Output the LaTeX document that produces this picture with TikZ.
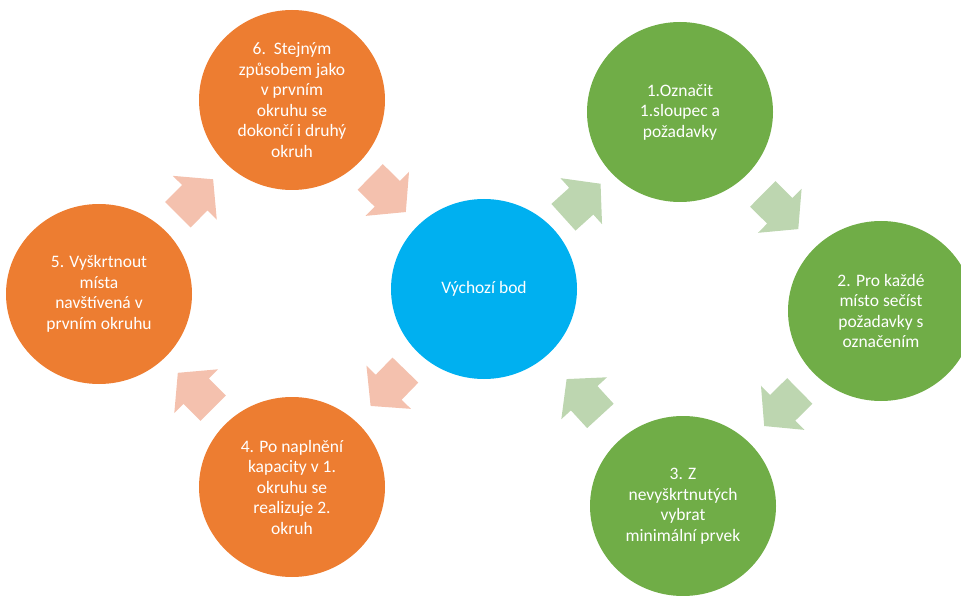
\documentclass[tikz,border=0pt]{standalone}
\usepackage{fontspec}
\setmainfont{Carlito}
\usetikzlibrary{shapes.geometric}

\definecolor{stepgreen}{HTML}{70AD47}
\definecolor{steporange}{HTML}{ED7D31}
\definecolor{startblue}{HTML}{00B0F0}
\definecolor{arrowgreen}{HTML}{BDD6B0}
\definecolor{arroworange}{HTML}{F4C1AE}

\tikzset{
  stepnode/.style={ellipse, minimum width=186pt, minimum height=180pt,
    inner sep=0pt, align=center, text=white,
    font=\fontsize{17.5pt}{20.5pt}\selectfont},
  greenstep/.style={stepnode, fill=stepgreen},
  orangestep/.style={stepnode, fill=steporange},
  startnode/.style={stepnode, fill=startblue},
  % a block arrow pointing along the local x axis, centred on the origin
  blockarrow/.pic={
    \fill[pic actions] (-25,-18) -- (-1,-18) -- (-1,-31) -- (25,0)
      -- (-1,31) -- (-1,18) -- (-25,18) -- cycle;
  },
  flowarrow/.style={sloped, allow upside down, pos=0.5},
  greenarrow/.style={flowarrow, fill=arrowgreen},
  orangearrow/.style={flowarrow, fill=arroworange}
}

\begin{document}
\begin{tikzpicture}[x=1pt, y=-1pt]
  \clip (0,0) rectangle (961,596);

  % start node and the six steps
  \node[startnode]  (start) at (484,289) {Výchozí bod};
  \node[greenstep]  (s1) at (680,112) {1.Označit\\1.sloupec a\\požadavky};
  \node[greenstep]  (s2) at (881,311) {2. Pro každé\\místo sečíst\\požadavky s\\označením};
  \node[greenstep]  (s3) at (683,506) {3. Z\\nevyškrtnutých\\vybrat\\minimální prvek};
  \node[orangestep] (s4) at (292,487) {4. Po naplnění\\kapacity v 1.\\okruhu se\\realizuje 2.\\okruh};
  \node[orangestep] (s5) at (99,294)  {5. Vyškrtnout\\místa\\navštívená v\\prvním okruhu};
  \node[orangestep] (s6) at (292,100) {6.\ \ Stejným\\způsobem jako\\v prvním\\okruhu se\\dokončí i druhý\\okruh};

  % block arrows halfway between consecutive nodes
  \path (start) -- pic[greenarrow]  {blockarrow} (s1);
  \path (s1)    -- pic[greenarrow]  {blockarrow} (s2);
  \path (s2)    -- pic[greenarrow]  {blockarrow} (s3);
  \path (s3)    -- pic[greenarrow]  {blockarrow} (start);
  \path (start) -- pic[orangearrow] {blockarrow} (s4);
  \path (s4)    -- pic[orangearrow] {blockarrow} (s5);
  \path (s5)    -- pic[orangearrow] {blockarrow} (s6);
  \path (s6)    -- pic[orangearrow] {blockarrow} (start);
\end{tikzpicture}
\end{document}
